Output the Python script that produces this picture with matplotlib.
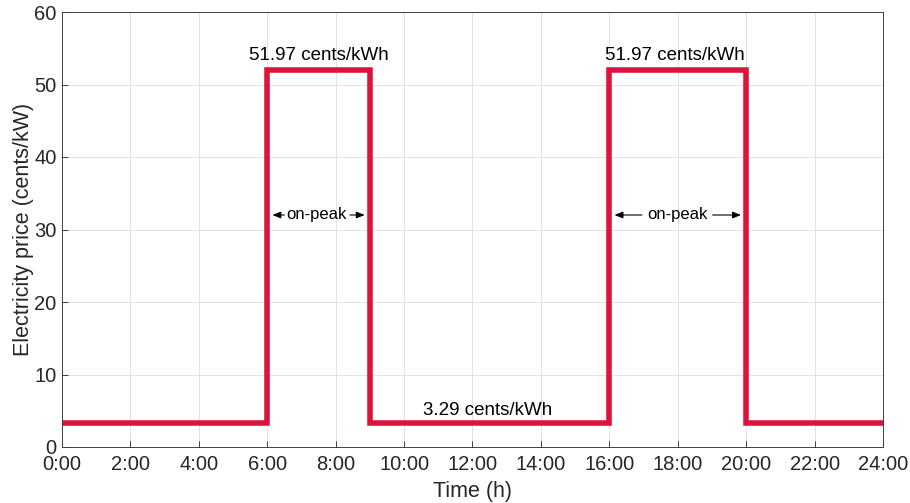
import matplotlib
matplotlib.use("Agg")
import matplotlib.pyplot as plt
import numpy as np

plt.rcParams['font.family'] = ['Liberation Sans', 'DejaVu Sans']

hours = [0, 6, 9, 16, 20, 24]
prices = [3.29, 51.97, 3.29, 51.97, 3.29]
xticks = list(range(0, 25, 2))
xticklabels = [f"{h}:00" for h in xticks]
yticks = list(range(0, 61, 10))

fig = plt.figure(figsize=(9.10, 5.03), dpi=100)
ax = fig.add_axes([62/910, 1-447/503, (883-62)/910, (447-12)/503])

ax.step(hours, prices + [prices[-1]], where='post', color='#DC143C', lw=4, solid_joinstyle='miter')

ax.set_xlim(0, 24)
ax.set_ylim(0, 60)
ax.set_xticks(xticks)
ax.set_xticklabels(xticklabels)
ax.set_yticks(yticks)
ax.grid(True, color='#e3e3e3', lw=0.7)
ax.set_axisbelow(True)
ax.tick_params(direction='in', length=4, width=0.6, colors='#262626', labelsize=14.5)
ax.tick_params(axis='x', pad=6)
ax.tick_params(axis='y', pad=4)
for s in ax.spines.values():
    s.set_color('#404040')
    s.set_linewidth(0.7)
ax.set_xlabel('Time (h)', fontsize=15.5, color='#262626', labelpad=5)
ax.set_ylabel('Electricity price (cents/kW)', fontsize=15.5, color='#262626', labelpad=0)

ax.text(7.5, 52.8, '51.97 cents/kWh', ha='center', va='bottom', fontsize=13.5, color='black')
ax.text(17.92, 52.8, '51.97 cents/kWh', ha='center', va='bottom', fontsize=13.5, color='black')
ax.text(12.45, 3.9, '3.29 cents/kWh', ha='center', va='bottom', fontsize=13.5, color='black')

yy = 32
ap = dict(arrowstyle='-|>,head_length=0.5,head_width=0.2', color='black', lw=0.8, shrinkA=0, shrinkB=0)
ax.text(7.45, yy, 'on-peak', ha='center', va='center', fontsize=12)
ax.annotate('', xy=(6.15, yy), xytext=(6.5, yy), arrowprops=ap)
ax.annotate('', xy=(8.85, yy), xytext=(8.42, yy), arrowprops=ap)
ax.text(18, yy, 'on-peak', ha='center', va='center', fontsize=12)
ax.annotate('', xy=(16.15, yy), xytext=(16.95, yy), arrowprops=ap)
ax.annotate('', xy=(19.85, yy), xytext=(19.02, yy), arrowprops=ap)

fig.savefig('out.png', dpi=100)
